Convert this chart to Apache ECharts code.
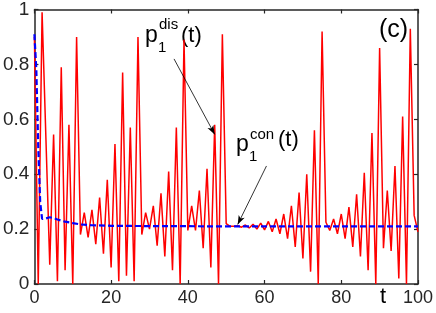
<!DOCTYPE html>
<html>
<head>
<meta charset="utf-8">
<script src="https://cdn.jsdelivr.net/npm/echarts@6/dist/echarts.min.js"></script>
<style>html,body{margin:0;padding:0;background:#fff}#c{width:436px;height:313px}</style>
</head>
<body>
<div id="c"></div>
<script>
// discrete-time probability p1^dis(t)
const disT = [0,1,2,3,4,5,6,7,8,9,10,11,12,13,14,15,16,17,18,19,20,21,22,23,24,25,26,27,28,29,30,31,32,33,34,35,36,37,38,39,40,41,42,43,44,45,46,47,48,49,50,51,52,53,54,55,56,57,58,59,60,61,62,63,64,65,66,67,68,69,70,71,72,73,74,75,76,77,78,79,80,81,82,83,84,85,86,87,88,89,90,91,92,93,94,95,96,97,98,99,100];
const disV = [0.90,0.00,0.99,0.53,0.07,0.545,0.01,0.79,0.05,0.58,0.00,0.90,0.18,0.26,0.17,0.27,0.145,0.315,0.11,0.38,0.06,0.51,0.01,0.77,0.03,0.57,0.01,0.90,0.18,0.26,0.20,0.285,0.14,0.33,0.10,0.41,0.05,0.57,0.00,0.89,0.195,0.285,0.195,0.34,0.13,0.42,0.06,0.58,0.00,0.91,0.22,0.21,0.21,0.212,0.207,0.215,0.204,0.218,0.20,0.222,0.197,0.228,0.19,0.237,0.183,0.255,0.165,0.285,0.135,0.333,0.093,0.40,0.045,0.56,0.00,0.92,0.225,0.195,0.237,0.183,0.255,0.165,0.28,0.135,0.327,0.10,0.405,0.05,0.55,0.00,0.86,0.13,0.34,0.12,0.43,0.02,0.61,0.00,0.93,0.25,0.19];
// continuous-time probability p1^con(t)
const conT = [0,0.5,1,1.5,2,2.5,3,4,5,6,8,10,12,15,20,30,50,100];
const conV = [0.91,0.78,0.50,0.30,0.237,0.236,0.239,0.243,0.240,0.235,0.227,0.222,0.217,0.214,0.212,0.211,0.21,0.21];
const xTicks = [0,20,40,60,80,100];
const yTicks = ['0','0.2','0.4','0.6','0.8','1'];

const zip = (a,b) => a.map((t,i)=>[t,b[i]]);
const FONT = '"Liberation Sans", Arial, Helvetica, sans-serif';
const AX = '#262626';

const chart = echarts.init(document.getElementById('c'), null, {renderer:'canvas'});
const axisCommon = {
  type:'value',
  axisLine:{show:true, onZero:false, lineStyle:{color:AX, width:1.5}},
  axisTick:{show:true, inside:true, length:4, lineStyle:{color:AX, width:1.2}},
  splitLine:{show:false}
};
chart.setOption({
  animation:false,
  backgroundColor:'#fff',
  grid:{left:33, right:16, top:7, bottom:29, containLabel:false},
  xAxis:[
    Object.assign({}, axisCommon, {position:'bottom', min:xTicks[0], max:xTicks[xTicks.length-1], interval:20,
      axisLabel:{show:true, color:AX, fontSize:18, fontFamily:FONT, margin:5}}),
    Object.assign({}, axisCommon, {position:'top', min:0, max:100, interval:20, axisLabel:{show:false}})
  ],
  yAxis:[
    Object.assign({}, axisCommon, {position:'left', min:0, max:1, interval:0.2,
      axisLabel:{show:true, color:AX, fontSize:19, fontFamily:FONT, margin:5,
        formatter:(v)=>yTicks[Math.round(v*5)]}}),
    Object.assign({}, axisCommon, {position:'right', min:0, max:1, interval:0.2, axisLabel:{show:false}})
  ],
  series:[
    {type:'line', name:'dis', data:zip(disT,disV), showSymbol:false, symbol:'none',
     lineStyle:{color:'#ff0000', width:1.5}, z:2,
     markLine:{silent:true, symbol:['none','arrow'], symbolSize:[5,9], label:{show:false},
       lineStyle:{color:'#000', width:0.8, type:'solid'},
       data:[
         [{coord:[36.4,0.82]},{coord:[47.0,0.545]}],
         [{coord:[60.5,0.43]},{coord:[53.0,0.217]}]
       ]}},
    {type:'line', name:'con', data:zip(conT,conV), showSymbol:false, symbol:'none',
     lineStyle:{color:'#0000ff', width:2.2, type:[6,3]}, z:3}
  ],
  graphic:[
    {type:'text', style:{text:'p', x:145, y:36, font:'23px '+FONT, fill:'#000', verticalAlign:'middle'}},
    {type:'text', style:{text:'dis', x:159, y:25, font:'15px '+FONT, fill:'#000', verticalAlign:'middle'}},
    {type:'text', style:{text:'1', x:158, y:48, font:'15px '+FONT, fill:'#000', verticalAlign:'middle'}},
    {type:'text', style:{text:'(t)', x:181, y:36, font:'22px '+FONT, fill:'#000', verticalAlign:'middle'}},
    {type:'text', style:{text:'p', x:236, y:145, font:'23px '+FONT, fill:'#000', verticalAlign:'middle'}},
    {type:'text', style:{text:'con', x:250, y:135, font:'15px '+FONT, fill:'#000', verticalAlign:'middle'}},
    {type:'text', style:{text:'1', x:249, y:157, font:'15px '+FONT, fill:'#000', verticalAlign:'middle'}},
    {type:'text', style:{text:'(t)', x:278, y:140, font:'22px '+FONT, fill:'#000', verticalAlign:'middle'}},
    {type:'text', style:{text:'(c)', x:379, y:30, font:'25px '+FONT, fill:'#000', verticalAlign:'middle'}},
    {type:'text', style:{text:'t', x:383, y:297, font:'22px '+FONT, fill:'#000', align:'center', verticalAlign:'middle'}}
  ]
});
</script>
</body>
</html>
